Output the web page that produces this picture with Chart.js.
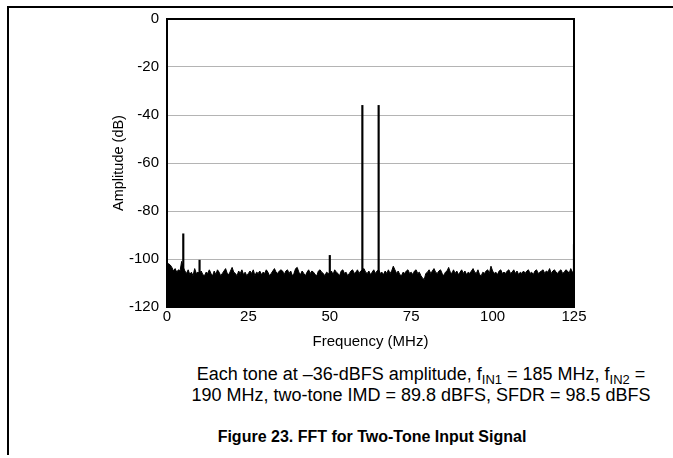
<!DOCTYPE html>
<html>
<head>
<meta charset="utf-8">
<script src="https://cdn.jsdelivr.net/npm/chart.js@4/dist/chart.umd.min.js"></script>
<style>
    html, body { margin: 0; padding: 0; background: #fff; overflow: hidden; }
    body { width: 673px; height: 458px; position: relative; font-family: Arial, 'Liberation Sans', sans-serif; color: #000; }
    .linha-topo { position: absolute; left: 7px; top: 6px; width: 666px; height: 2px; background: #000; }
    .linha-lado { position: absolute; left: 7px; top: 6px; width: 2px; height: 449px; background: #000; }
    #grafico { position: absolute; left: 0; top: 0; }
    .legenda { position: absolute; left: 121px; width: 600px; top: 364px; text-align: center; font-size: 18px; line-height: 21px; }
    .legenda sub { font-size: 13px; line-height: 0; vertical-align: -4px; }
    .titulo { position: absolute; left: 72px; width: 600px; top: 428px; text-align: center; font-size: 16px; font-weight: bold; line-height: 18px; }
</style>
</head>
<body>
<div class="linha-topo"></div>
<div class="linha-lado"></div>
<canvas id="grafico" width="673" height="352"></canvas>
<div class="legenda">Each tone at –36-dBFS amplitude, f<sub>IN1</sub> = 185 MHz, f<sub>IN2</sub> =<br>190 MHz, two-tone IMD = 89.8 dBFS, SFDR = 98.5 dBFS</div>
<div class="titulo">Figure 23. FFT for Two-Tone Input Signal</div>
<script>
    // piso de ruido, um valor a cada 0.5 MHz de 0 a 125 MHz (dB)
    const passoMHz = 0.5;
    const ruido = [
        -101.5, -102, -102.5, -103.5, -105, -104, -105.5, -104.5, -105, -101, -103.5, -105, -106, -104.5, -106.5, -105.5, -107, -104, -106, -105.5,
        -106, -105, -106.5, -107, -105.5, -106, -104.5, -106, -107, -105, -106.5, -104.5, -105.5, -107, -106, -105, -104, -106, -106.5, -105,
        -103.5, -105.5, -106, -107, -105, -106, -104.5, -106.5, -105.5, -107, -106, -105, -106, -104.5, -107, -105.5, -106, -105, -106.5, -105.5,
        -106, -104.5, -105.5, -107, -106, -105, -104, -105.5, -106, -105, -104.5, -105, -106.5, -105, -104.5, -106, -105, -107, -106, -104,
        -103.5, -105.5, -106.5, -105, -106, -107, -105.5, -104.5, -106, -105, -105.5, -106.5, -107, -105, -104.5, -105.5, -106, -107, -105.5, -106,
        -106, -105, -106.5, -104.5, -105.5, -106, -107, -105, -104.5, -106, -105.5, -107, -106, -105, -104.5, -106, -105.5, -104.5, -106, -105,
        -104.5, -104, -105.5, -106, -105, -106.5, -105.5, -104.5, -106, -105, -104.5, -106, -105.5, -106.5, -105, -106, -104.5, -106, -105, -103,
        -104.5, -106, -105, -106.5, -107, -105.5, -106, -105, -104.5, -106, -105.5, -106.5, -105, -104.5, -106, -105.5, -107, -108, -108.5, -106,
        -105.5, -104.5, -106, -105, -104, -105.5, -106, -105, -104.5, -106, -107, -105.5, -105, -103.5, -105.5, -106, -104.5, -106, -105, -106.5,
        -105.5, -104.5, -106, -105, -106.5, -105.5, -106, -105, -104, -105.5, -106, -104.5, -106.5, -107, -105.5, -106, -105, -104.5, -106, -103,
        -105, -106, -105.5, -106.5, -105, -104.5, -106, -105.5, -106, -105, -104.5, -106, -105.5, -104.5, -106, -105, -106.5, -105.5, -106, -105,
        -106, -105, -104.5, -106, -105.5, -106.5, -105, -104.5, -106, -105.5, -105, -104.5, -106, -105, -105.5, -104, -106, -105, -104.5, -105.5,
        -106, -105, -104.5, -106, -105.5, -104.5, -105, -106, -104, -105.5, -105
    ];

    // tons e espurios que sobem acima do piso
    const espurioFreq = [5, 10, 50, 60, 65, 125];
    const espurioNivel = [-89.5, -100.5, -98.5, -36, -36, -94];

    const ticksX = [0, 25, 50, 75, 100, 125];
    const ticksY = [0, -20, -40, -60, -80, -100, -120];

    const fonte = "Arial, 'Liberation Sans', sans-serif";

    const pontosRuido = ruido.map((v, i) => ({ x: i * passoMHz, y: v }));
    const barrasEspurio = espurioFreq.map((f, i) => ({ x: f, y: [-120, espurioNivel[i]] }));

    const quadroPlot = {
        id: 'quadroPlot',
        afterDatasetsDraw(chart) {
            const a = chart.chartArea;
            const ctx = chart.ctx;
            ctx.save();
            ctx.strokeStyle = '#000';
            ctx.lineWidth = 2;
            ctx.strokeRect(a.left, a.top, a.right - a.left, a.bottom - a.top);
            ctx.restore();
        }
    };

    new Chart(document.getElementById('grafico'), {
        type: 'line',
        data: {
            datasets: [{
                type: 'line',
                data: pontosRuido,
                borderColor: '#000',
                backgroundColor: '#000',
                borderWidth: 1,
                pointRadius: 0,
                tension: 0,
                fill: 'start',
            }, {
                type: 'bar',
                data: barrasEspurio,
                backgroundColor: '#000',
                barThickness: 1.5,
                borderWidth: 0,
            }],
        },
        options: {
            responsive: false,
            animation: false,
            devicePixelRatio: 1,
            layout: { padding: { left: 106, right: 99, top: 19, bottom: 0 } },
            plugins: { legend: { display: false }, tooltip: { enabled: false } },
            scales: {
                x: {
                    type: 'linear',
                    offset: false,
                    min: 0,
                    max: 125,
                    afterBuildTicks: (s) => { s.ticks = ticksX.map(v => ({ value: v })); },
                    afterFit: (s) => { s.height = 45; },
                    grid: { display: false, drawTicks: false },
                    border: { display: false },
                    ticks: { color: '#000', padding: 1, font: { family: fonte, size: 15 }, maxRotation: 0 },
                    title: { display: true, text: 'Frequency (MHz)', color: '#000', font: { family: fonte, size: 15 }, padding: { top: 0, bottom: 1 } },
                },
                y: {
                    min: -120,
                    max: 0,
                    afterBuildTicks: (s) => { s.ticks = ticksY.map(v => ({ value: v })); },
                    afterFit: (s) => { s.width = 61; },
                    grid: { color: '#b4b4b4', lineWidth: 1, drawTicks: false },
                    border: { display: false },
                    ticks: { color: '#000', padding: 8, font: { family: fonte, size: 15 } },
                    title: { display: true, text: 'Amplitude (dB)', color: '#000', font: { family: fonte, size: 14.5 }, padding: { top: 4, bottom: 0 } },
                },
            },
        },
        plugins: [quadroPlot],
    });
</script>
</body>
</html>
